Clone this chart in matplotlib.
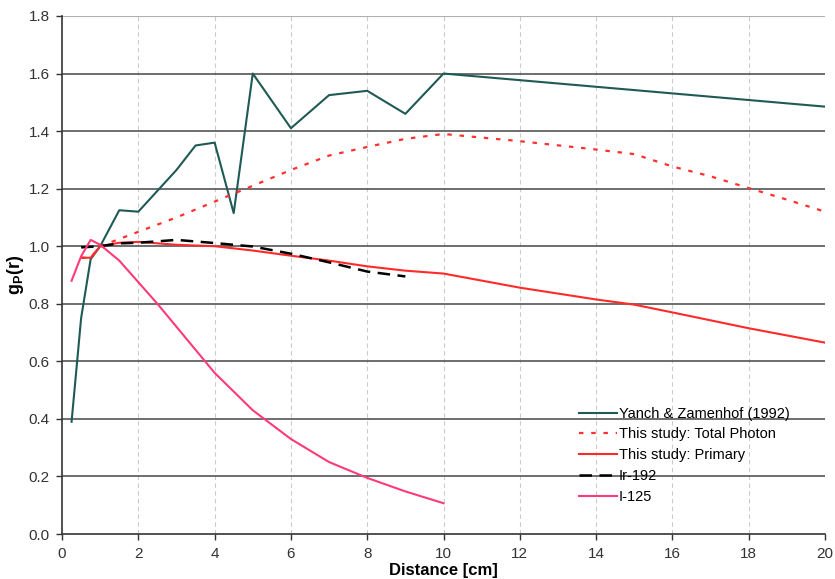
import numpy as np
from matplotlib import pyplot as plt

plt.rcParams['font.family'] = ['Liberation Sans', 'DejaVu Sans']
plt.rcParams['mathtext.fontset'] = 'custom'
plt.rcParams['mathtext.rm'] = 'Liberation Sans'
plt.rcParams['mathtext.bf'] = 'Liberation Sans:bold'

# Yanch & Zamenhof (1992)
yz_x = [0.25, 0.5, 0.75, 1, 1.5, 2, 3, 3.5, 4, 4.5, 5, 6, 7, 8, 9, 10, 20]
yz_y = [0.39, 0.75, 0.955, 1.0, 1.125, 1.12, 1.265, 1.35, 1.36, 1.115, 1.6, 1.41, 1.525, 1.54, 1.46, 1.6, 1.485]

# This study: Total Photon
tot_x = [0.5, 0.75, 1, 2, 3, 4, 5, 6, 7, 8, 9, 10, 12, 14, 15, 16, 17, 18, 19, 20]
tot_y = [0.96, 0.96, 1.0, 1.05, 1.10, 1.155, 1.21, 1.265, 1.315, 1.345, 1.373, 1.39, 1.365, 1.336, 1.32, 1.277, 1.243, 1.202, 1.162, 1.12]

# This study: Primary
pri_x = [0.5, 0.75, 1, 1.5, 2, 3, 4, 5, 6, 7, 8, 9, 10, 12, 14, 15, 16, 18, 20]
pri_y = [0.96, 0.96, 1.0, 1.012, 1.015, 1.005, 1.0, 0.985, 0.967, 0.95, 0.93, 0.915, 0.905, 0.856, 0.815, 0.797, 0.77, 0.715, 0.665]

# Ir-192
ir_x = [0.5, 1, 1.5, 2, 3, 4, 5, 6, 7, 8, 9]
ir_y = [0.996, 1.0, 1.01, 1.012, 1.022, 1.011, 0.999, 0.974, 0.944, 0.912, 0.895]

# I-125
i_x = [0.25, 0.5, 0.75, 1, 1.5, 2, 2.5, 3, 4, 5, 6, 7, 8, 9, 10]
i_y = [0.88, 0.965, 1.022, 1.005, 0.95, 0.875, 0.80, 0.72, 0.56, 0.43, 0.33, 0.25, 0.195, 0.148, 0.107]

fig = plt.figure(figsize=(8.35, 5.79), dpi=100)
ax = fig.add_axes([0.0743, 0.0777, 0.9137, 0.8947])

ax.plot(yz_x, yz_y, color='#1f5a55', lw=1.5, label='Yanch & Zamenhof (1992)')
ax.plot(tot_x, tot_y, color='#ff3030', lw=1.6, dashes=(2, 3.5), label='This study: Total Photon')
ax.plot(pri_x, pri_y, color='#ff2a2a', lw=1.5, label='This study: Primary')
ax.plot(ir_x, ir_y, color='black', lw=1.8, dashes=(5, 3), label='Ir-192')
ax.plot(i_x, i_y, color='#ff3a78', lw=1.5, label='I-125')

ax.set_xlim(0, 20)
ax.set_ylim(0, 1.8)
ax.set_xticks(np.arange(0, 21, 2))
ax.set_yticks(np.arange(0, 1.81, 0.2))
ax.set_yticklabels(['%.1f' % v for v in np.arange(0, 1.81, 0.2)])

# gridlines like the old spreadsheet chart
for v in np.arange(2, 20, 2):
    ax.axvline(v, color='#c8ccd0', lw=0.8, ls=(0, (4, 3)), zorder=0)
for v in np.arange(0.2, 1.7, 0.2):
    ax.axhline(v, color='#555558', lw=1.2, zorder=0)
ax.axhline(1.8, color='#b0b0b0', lw=0.8, zorder=0)

ax.spines['top'].set_visible(False)
ax.spines['right'].set_visible(False)
ax.spines['left'].set_color('#333333')
ax.spines['bottom'].set_color('#333333')
ax.spines['left'].set_linewidth(1.2)
ax.spines['bottom'].set_linewidth(1.2)
ax.tick_params(direction='out', length=4, width=1, labelsize=11, colors='#333333', pad=5)

ax.set_xlabel('Distance [cm]', fontsize=12, fontweight='bold', labelpad=2)
ax.set_ylabel(r'g$_{\mathbf{P}}$(r)', fontsize=13, fontweight='bold', labelpad=2)

ax.legend(loc='upper left', bbox_to_anchor=(0.668, 0.260), frameon=False, fontsize=10.5,
          handlelength=2.6, handletextpad=0.15, labelspacing=0.47, borderpad=0)

plt.savefig('out.png', dpi=100)
